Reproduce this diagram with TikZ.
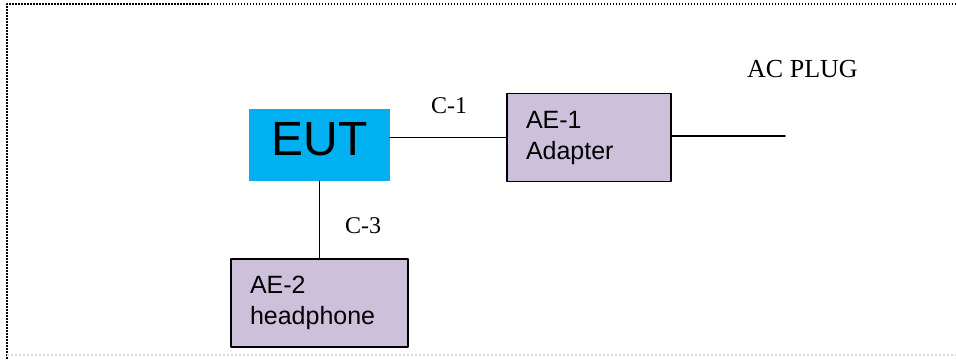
\documentclass[tikz,border=0pt]{standalone}
\usepackage{fontspec}
\setmainfont{Liberation Serif}
\newfontfamily\arialfont{Liberation Sans}
\definecolor{eutblue}{RGB}{0,176,240}
\definecolor{aelilac}{RGB}{204,192,218}
\begin{document}
\begin{tikzpicture}[x=1pt, y=-1pt, line join=round, line cap=round,
	box/.style={draw, line width=1.5pt, fill=aelilac, align=left, inner xsep=19pt, inner ysep=0pt, minimum height=88pt, font=\arialfont\fontsize{25}{31}\selectfont},
	cable/.style={line width=1.8pt},
	lbl/.style={anchor=base west, inner sep=0pt, font=\fontsize{24}{28}\selectfont}]
	\useasboundingbox (0,0) rectangle (956,359);
	% frame
	\draw[line width=1.6pt, dash pattern=on 1.5pt off 1.5pt, line cap=butt] (956,4) -- (7,4) -- (7,359);
	\draw[gray!30, line width=1.2pt, dash pattern=on 2pt off 2pt, line cap=butt] (7,355) -- (956,355);
	\path
	(785,136) coordinate (plug)
	;
	\node[fill=eutblue, minimum width=141pt, minimum height=72pt, inner sep=0pt, text depth=12pt, font=\arialfont\fontsize{48}{56}\selectfont] (EUT) at (319.5,145) {EUT};
	\node[box, text width=126pt] (AE1) at (589,137.5) {AE-1\\Adapter};
	\node[box, text width=139pt] (AE2) at (319.5,303) {AE-2\\headphone};
	\draw[cable] (EUT.east |- AE1.west) -- (AE1.west);
	\draw[cable] (AE1.east |- plug) -- (plug);
	\draw[cable] (EUT.south) -- (AE2.north);
	\node[lbl] (C1) at (431,113) {C-1};
	\node[lbl] (C3) at (345,233) {C-3};
	\node[lbl, font=\fontsize{26}{30}\selectfont] (ACPLUG) at (747,77) {AC PLUG};
\end{tikzpicture}
\end{document}
